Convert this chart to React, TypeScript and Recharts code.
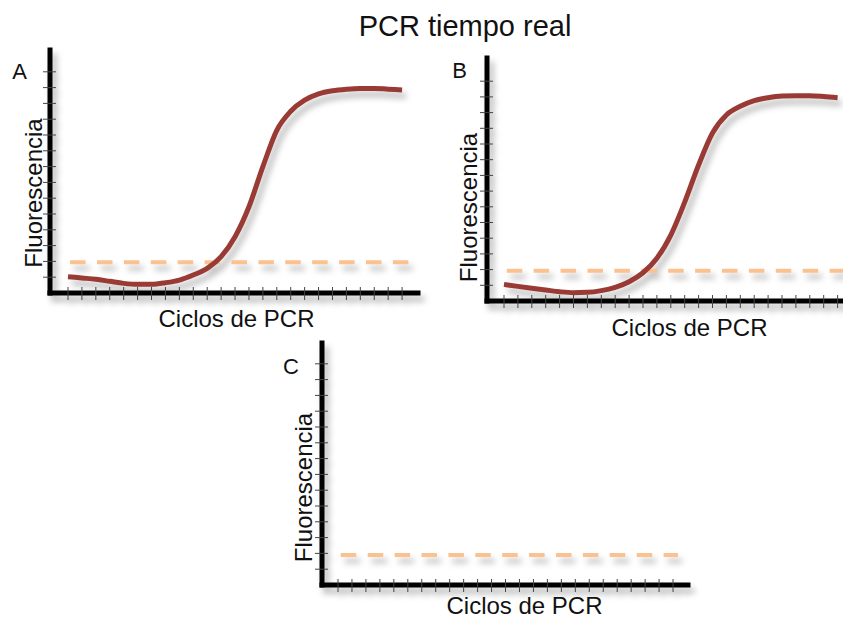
import React from 'react';
import { LineChart, Line, XAxis, YAxis, ReferenceLine } from 'recharts';

// ciclos de PCR (una marca por ciclo)
const CICLOS = [0, 1, 2, 3, 4, 5, 6, 7, 8, 9, 10, 11, 12, 13, 14, 15, 16, 17, 18, 19, 20, 21, 22, 23, 24];
const MARCAS_Y = [1, 2, 3, 4, 5, 6, 7, 8, 9, 10, 11, 12, 13, 14];

// fluorescencia (unidades = marcas del eje Y)
const FLUOR_A = [1.03, 0.95, 0.87, 0.74, 0.61, 0.55, 0.55, 0.65, 0.82, 1.14, 1.56, 2.3, 3.56, 5.46, 8.0, 10.3, 11.5, 12.2, 12.6, 12.8, 12.9, 12.95, 12.95, 12.9, 12.85];
const FLUOR_B = [1.06, 0.93, 0.81, 0.7, 0.59, 0.53, 0.55, 0.66, 0.87, 1.23, 1.8, 2.72, 4.2, 6.3, 8.66, 10.7, 11.85, 12.4, 12.76, 12.95, 13.06, 13.08, 13.08, 13.03, 12.95];

// umbral de deteccion
const UMBRAL_A = 1.95;
const UMBRAL_B = 1.93;
const UMBRAL_C = 1.9;

const CURVE = '#9a3a35';
const DASH = '#fbc18e';
const FONT = '"Liberation Sans", Arial, Helvetica, sans-serif';
const AXIS_BAND = 20;

const XTick = (props: any) => {
  const { x, y } = props;
  return <line x1={x} x2={x} y1={y - 6} y2={y + 7} stroke="#444" strokeWidth={1} />;
};

const YTick = (props: any) => {
  const { x, y } = props;
  return <line x1={x - 7} x2={x + 6} y1={y} y2={y} stroke="#444" strokeWidth={1} />;
};

interface PanelProps {
  values?: number[];
  umbral: number;
  umbralDesde: number;
  umbralHasta: number;
  left: number;
  top: number;
  right: number;
  bottom: number;
  tick0: number;
  step: number;
  unit: number;
  chartWidth?: number;
}

const Panel: React.FC<PanelProps> = ({ values, umbral, umbralDesde, umbralHasta, left, top, right, bottom, tick0, step, unit, chartWidth = 843 }) => {
  const data = CICLOS.map((c, i) => ({ ciclo: c, f: values ? values[i] : null }));
  const xMin = (left - tick0) / step;
  const xMax = (right - tick0) / step;
  const yMax = (bottom - top) / unit;
  return (
    <div style={{ position: 'absolute', left: 0, top: 0, filter: 'drop-shadow(4px 6px 3px rgba(0,0,0,0.28))' }}>
      <LineChart
        width={chartWidth}
        height={619}
        data={data}
        margin={{ left: left - AXIS_BAND, top, right: chartWidth - right, bottom: 619 - bottom - AXIS_BAND }}
      >
        <XAxis
          type="number"
          dataKey="ciclo"
          domain={[xMin, xMax]}
          ticks={CICLOS}
          interval={0}
          allowDataOverflow
          height={AXIS_BAND}
          tickSize={0}
          tickMargin={0}
          tickLine={false}
          tick={XTick}
          axisLine={{ stroke: '#000', strokeWidth: 5, strokeLinecap: 'square' }}
        />
        <YAxis
          type="number"
          domain={[0, yMax]}
          ticks={MARCAS_Y}
          interval={0}
          allowDataOverflow
          width={AXIS_BAND}
          tickSize={0}
          tickMargin={0}
          tickLine={false}
          tick={YTick}
          axisLine={{ stroke: '#000', strokeWidth: 5, strokeLinecap: 'square' }}
        />
        <ReferenceLine
          segment={[{ x: umbralDesde, y: umbral }, { x: umbralHasta, y: umbral }]}
          stroke={DASH}
          strokeWidth={4}
          strokeDasharray="15.5 11.4"
          ifOverflow="visible"
        />
        {values && (
          <Line
            type="monotone"
            dataKey="f"
            stroke={CURVE}
            strokeWidth={5}
            dot={false}
            activeDot={false}
            isAnimationActive={false}
          />
        )}
      </LineChart>
    </div>
  );
};

const App: React.FC = () => {
  const txt = { fontFamily: FONT, fill: '#111' };
  return (
    <div style={{ position: 'absolute', left: 0, top: 0, width: 843, height: 619, overflow: 'hidden', background: '#fff' }}>
      <Panel values={FLUOR_A} umbral={UMBRAL_A} umbralDesde={0.15} umbralHasta={24.6}
        left={50} top={50} right={418} bottom={293} tick0={68} step={13.92} unit={15.8} />
      <Panel values={FLUOR_B} umbral={UMBRAL_B} umbralDesde={0.2} umbralHasta={26}
        left={487} top={58} right={870} bottom={301} tick0={504} step={13.9} unit={15.7} chartWidth={880} />
      <Panel umbral={UMBRAL_C} umbralDesde={0.2} umbralHasta={24.35}
        left={322} top={343} right={688} bottom={585} tick0={338} step={13.96} unit={15.8} />
      <svg width={843} height={619} style={{ position: 'absolute', left: 0, top: 0 }}>
        <text x={465} y={36} textAnchor="middle" fontSize={29} {...txt}>PCR tiempo real</text>
        <text x={19.5} y={79} textAnchor="middle" fontSize={22} {...txt}>A</text>
        <text x={459.5} y={78} textAnchor="middle" fontSize={22} {...txt}>B</text>
        <text x={291} y={374} textAnchor="middle" fontSize={22} {...txt}>C</text>
        <text x={236.5} y={327} textAnchor="middle" fontSize={24} {...txt}>Ciclos de PCR</text>
        <text x={689.5} y={336} textAnchor="middle" fontSize={24} {...txt}>Ciclos de PCR</text>
        <text x={524.5} y={614} textAnchor="middle" fontSize={24} {...txt}>Ciclos de PCR</text>
        <text x={42} y={193} textAnchor="middle" fontSize={24} transform="rotate(-90, 42, 193)" {...txt}>Fluorescencia</text>
        <text x={477} y={207.5} textAnchor="middle" fontSize={24} transform="rotate(-90, 477, 207.5)" {...txt}>Fluorescencia</text>
        <text x={312} y={487.5} textAnchor="middle" fontSize={24} transform="rotate(-90, 312, 487.5)" {...txt}>Fluorescencia</text>
      </svg>
    </div>
  );
};

export default App;
